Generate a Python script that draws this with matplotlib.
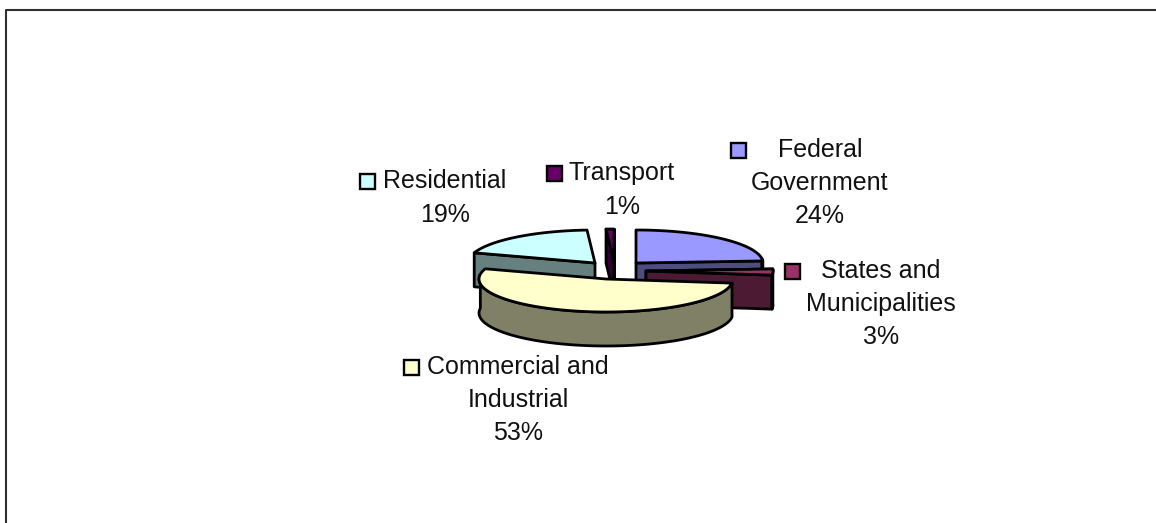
import numpy as np
import matplotlib
matplotlib.use("Agg")
import matplotlib.pyplot as plt
from matplotlib.patches import Polygon, Rectangle

categories = ["Federal\nGovernment", "States and\nMunicipalities", "Commercial and\nIndustrial", "Residential", "Transport"]
shares = [24, 3, 53, 19, 1]
top_colors = ["#9999FF", "#993366", "#FFFFCC", "#CCFFFF", "#660066"]
side_colors = ["#4D4D80", "#4D1A33", "#808066", "#668080", "#330033"]
centers = [(636, 263), (646, 271), (606, 279), (595, 263), (614, 262)]
cut_faces = [[1], [0, 1], [], [0], [0, 1]]
key_boxes = [(731, 143), (785, 264), (404, 360), (360, 174), (547, 166)]
label_pos = [(820, 183), (881, 304), (518, 400), (445, 198), (622, 190)]

RX, RY, DEPTH = 127, 33, 34
W, H = 1156, 523
plt.rcParams["font.family"] = ["Liberation Sans", "DejaVu Sans"]
fig = plt.figure(figsize=(W / 100, H / 100), dpi=100)
ax = fig.add_axes([0, 0, 1, 1])
ax.set_xlim(0, W)
ax.set_ylim(H, 0)
ax.axis("off")

# frame: only its left and top sides lie inside the image
ax.plot([6, 6, W + 5], [H + 5, 10, 10], color="#303030", lw=1.5, clip_on=False)

fractions = np.array(shares) / sum(shares)
edges = np.concatenate([[0], np.cumsum(fractions)]) * 2 * np.pi


def draw_slice(i):
    cx, cy = centers[i]
    t = np.linspace(edges[i], edges[i + 1], 80)
    x, y = cx + RX * np.sin(t), cy - RY * np.cos(t)
    ec = dict(edgecolor="black", linewidth=2.0, joinstyle="round")
    for k in cut_faces[i]:
        j = 0 if k == 0 else -1
        face = [(cx, cy), (x[j], y[j]), (x[j], y[j] + DEPTH), (cx, cy + DEPTH)]
        ax.add_patch(Polygon(face, closed=True, facecolor=side_colors[i], **ec))
    front = np.cos(t) < 0.15
    if front.any():
        fx, fy = x[front], y[front]
        pts = np.column_stack([np.r_[fx, fx[::-1]], np.r_[fy, fy[::-1] + DEPTH]])
        ax.add_patch(Polygon(pts, closed=True, facecolor=side_colors[i], **ec))
    top = np.column_stack([np.r_[cx, x], np.r_[cy, y]])
    ax.add_patch(Polygon(top, closed=True, facecolor=top_colors[i], **ec))


for i in [0, 3, 4, 1, 2]:
    draw_slice(i)

for name, share, color, (kx, ky), (lx, ly) in zip(categories, shares, top_colors, key_boxes, label_pos):
    ax.add_patch(Rectangle((kx, ky), 15, 15, facecolor=color, edgecolor="black", linewidth=1.7))
    ax.text(lx, ly, f"{name}\n{share}%", ha="center", va="center",
            fontsize=18, linespacing=1.49, color="#111111", multialignment="center")

fig.savefig("out.png", dpi=100, facecolor="white")
